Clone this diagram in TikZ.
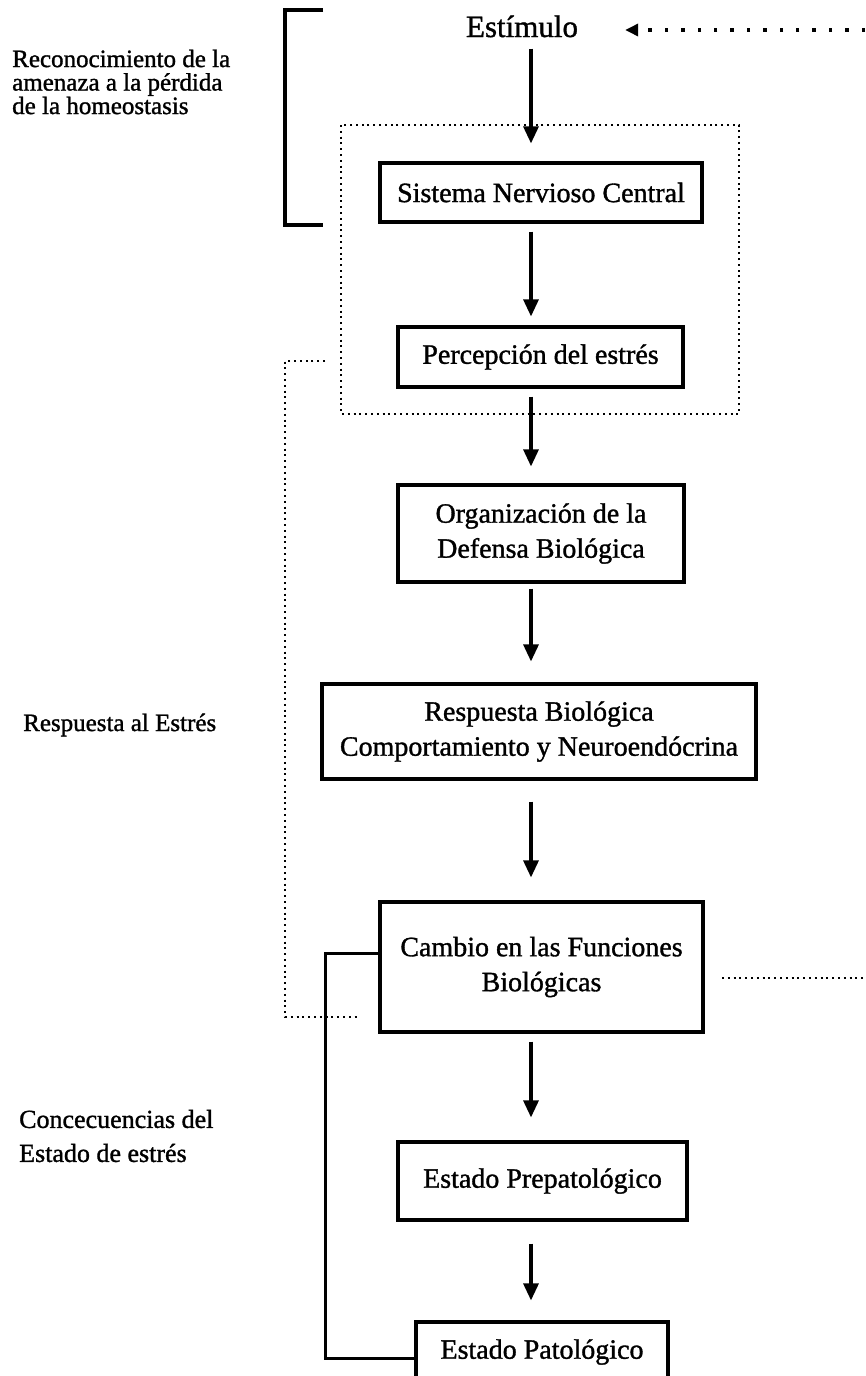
\documentclass[tikz,border=0pt]{standalone}
\usepackage{fontspec}
\setmainfont{Liberation Serif}[BoldFont=Liberation Serif,BoldFeatures={FakeBold=1.2}]
\usetikzlibrary{arrows.meta}
\begin{document}
\begin{tikzpicture}[x=1pt,y=-1pt,
  box/.style={draw,line width=3.2pt,align=center,inner sep=0pt,font=\fontsize{28}{35}\selectfont\bfseries},
  lbl/.style={align=left,inner sep=0pt,anchor=west},
  arr/.style={line width=3.2pt,-{Triangle[width=15pt,length=17pt]}},
  fdot/.style={line width=2pt,dash pattern=on 2pt off 3.8pt},
  bigdot/.style={line width=3.4pt,dash pattern=on 3.4pt off 13pt},
  solidl/.style={line width=3pt},
  brk/.style={line width=3.4pt}]
\useasboundingbox (0,0) rectangle (865,1376);
\fill[white] (0,0) rectangle (865,1376);

% dotted frame and bracket
\draw[fdot] (341,125) rectangle (739,414);
\draw[brk] (323,10) -- (285,10) -- (285,225) -- (323,225);

% main nodes
\node[anchor=base,inner sep=0pt,font=\fontsize{31}{35}\selectfont\bfseries] (stim) at (522,37) {Estímulo};
\node[box,minimum width=322pt,minimum height=59pt] (snc) at (541,192.5) {Sistema Nervioso Central};
\node[box,minimum width=285pt,minimum height=60pt] (perc) at (540.5,357) {Percepción del estrés};
\node[box,minimum width=286pt,minimum height=97pt] (org) at (541,533.5) {Organización de la\\Defensa Biológica};
\node[box,minimum width=434pt,minimum height=95pt] (resp) at (539,731.5) {Respuesta Biológica\\Comportamiento y Neuroendócrina};
\node[box,minimum width=323pt,minimum height=130pt] (cambio) at (541.5,967) {Cambio en las Funciones\\Biológicas};
\node[box,minimum width=289pt,minimum height=78pt] (prep) at (542.5,1181) {Estado Prepatológico};
\node[box,minimum width=252pt,minimum height=60pt] (pato) at (542,1352) {Estado Patológico};

% side labels
\node[lbl,font=\fontsize{25}{23.5}\selectfont\bfseries] (l1) at (12,82) {Reconocimiento de la\\amenaza a la pérdida\\de la homeostasis};
\node[lbl,font=\fontsize{25}{30}\selectfont\bfseries] (l2) at (23,725) {Respuesta al Estrés};
\node[lbl,font=\fontsize{26}{34}\selectfont\bfseries] (l3) at (19,1136) {Concecuencias del\\Estado de estrés};

% arrows
\coordinate (ax) at (531,0);
\draw[arr,shorten <=11pt,shorten >=18pt] (stim.south -| ax) -- (snc.north -| ax);
\draw[arr,shorten <=8pt,shorten >=9pt] (snc.south -| ax) -- (perc.north -| ax);
\draw[arr,shorten <=8pt,shorten >=17pt] (perc.south -| ax) -- (org.north -| ax);
\draw[arr,shorten <=5pt,shorten >=21pt] (org.south -| ax) -- (resp.north -| ax);
\draw[arr,shorten <=21pt,shorten >=23pt] (resp.south -| ax) -- (cambio.north -| ax);
\draw[arr,shorten <=8pt,shorten >=23pt] (cambio.south -| ax) -- (prep.north -| ax);
\draw[arr,shorten <=22pt,shorten >=20pt] (prep.south -| ax) -- (pato.north -| ax);

% dotted arrow into Estimulo
\coordinate (src) at (865,30);
\draw[bigdot,-{Triangle[width=12pt,length=13pt]},shorten >=47pt] (src) -- (stim.east |- src);

% dotted L on the left
\coordinate (dlA) at (325,361);
\coordinate (dlB) at (357,1017);
\draw[fdot] (dlA) -- (285,361) |- (dlB);

% dotted line to the right of Cambio
\coordinate (drA) at (722,978);
\coordinate (drB) at (865,978);
\draw[fdot] (drA) -- (drB);

% solid L from Cambio to Estado Patologico
\coordinate (sl1) at (325,953);
\coordinate (sl2) at (325,1358);
\draw[solidl] (cambio.west |- sl1) -- (sl1) -- (sl2) -- (pato.west |- sl2);
\end{tikzpicture}
\end{document}
